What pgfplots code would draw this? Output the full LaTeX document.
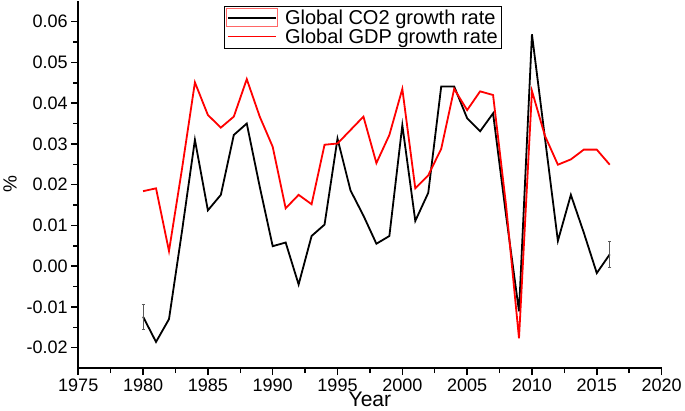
\documentclass[border=0pt]{standalone}
\usepackage{fontspec}
\setmainfont{Liberation Sans}
\usepackage{pgfplots}
\pgfplotsset{compat=1.18}
\begin{document}
\begin{tikzpicture}
\begin{axis}[
  scale only axis,
  width=580bp, height=365bp,
  xmin=1975, xmax=2020, ymin=-0.025, ymax=0.0651,
  axis x line=bottom, axis y line=left,
  axis line style={-, line width=1.8pt},
  xtick={1975,1980,...,2020},
  ytick={-0.02,-0.01,0,0.01,0.02,0.03,0.04,0.05,0.06},
  scaled y ticks=false,
  minor x tick num=1, minor y tick num=1,
  tick align=outside,
  major tick length=7bp, minor tick length=5bp,
  tick style={line width=1.5pt, black},
  /pgf/number format/assume math mode=true,
  xticklabel style={/pgf/number format/1000 sep={}, font=\fontsize{18}{20}\selectfont},
  yticklabel style={/pgf/number format/fixed, /pgf/number format/fixed zerofill, /pgf/number format/precision=2, font=\fontsize{18}{20}\selectfont, xshift=0bp},
  xlabel={Year}, ylabel={\%},
  xlabel style={font=\fontsize{21}{23}\selectfont, yshift=6bp},
  ylabel style={font=\fontsize{19}{21}\selectfont, yshift=3bp},
  legend style={at={(0.25,0.986)}, anchor=north west, draw=black, line width=0.8pt,
    font=\fontsize{20}{22}\selectfont, inner sep=1.5bp, row sep=-1.5bp, cells={anchor=west},
    /tikz/every odd column/.append style={column sep=5bp}},
  legend cell align=left,
  clip=false,
]
\addplot[black, line width=1.8pt,
  legend image code/.code={\draw[red!60, line width=0.7pt] (-0.05cm,-0.28cm) rectangle (1.75cm,0.32cm); \draw[black, line width=1.6pt] (0cm,0cm) -- (1.7cm,0cm);}]
coordinates {
(1980,-0.0124) (1981,-0.0186) (1982,-0.0130) (1983,0.0085) (1984,0.0310)
(1985,0.0137) (1986,0.0175) (1987,0.0322) (1988,0.0350) (1989,0.0195)
(1990,0.0049) (1991,0.0058) (1992,-0.0045) (1993,0.0074) (1994,0.0102)
(1995,0.0313) (1996,0.0186) (1997,0.0124) (1998,0.0055) (1999,0.0074)
(2000,0.0346) (2001,0.0111) (2002,0.0180) (2003,0.0441) (2004,0.0441)
(2005,0.0363) (2006,0.0331) (2007,0.0375) (2008,0.0125) (2009,-0.0111)
(2010,0.0569) (2011,0.0315) (2012,0.0062) (2013,0.0175) (2014,0.0082)
(2015,-0.0017) (2016,0.0029)
};
\addlegendentry{Global CO2 growth rate}
\addplot[red, line width=1.8pt,
  legend image code/.code={\draw[red, line width=1.6pt] (0cm,0cm) -- (1.7cm,0cm);}]
coordinates {
(1980,0.0184) (1981,0.0191) (1982,0.0037) (1983,0.0238) (1984,0.0451)
(1985,0.0371) (1986,0.0340) (1987,0.0367) (1988,0.0459) (1989,0.0367)
(1990,0.0293) (1991,0.0142) (1992,0.0175) (1993,0.0152) (1994,0.0298)
(1995,0.0301) (1996,0.0334) (1997,0.0367) (1998,0.0253) (1999,0.0322)
(2000,0.0435) (2001,0.0191) (2002,0.0223) (2003,0.0288) (2004,0.0435)
(2005,0.0383) (2006,0.0429) (2007,0.0420) (2008,0.0150) (2009,-0.0177)
(2010,0.0430) (2011,0.0320) (2012,0.0249) (2013,0.0262) (2014,0.0286)
(2015,0.0286) (2016,0.0249)
};
\addlegendentry{Global GDP growth rate}
\addplot[draw=none, forget plot,
  error bars/.cd, y dir=both, y explicit,
  error bar style={gray!70!black, line width=0.7pt},
  error mark options={rotate=90, mark size=1.5bp, gray!70!black}]
coordinates {
(1980,-0.0124) +- (0,0.0030)
(2016,0.0029) +- (0,0.0032)
};
\end{axis}
\end{tikzpicture}
\end{document}
